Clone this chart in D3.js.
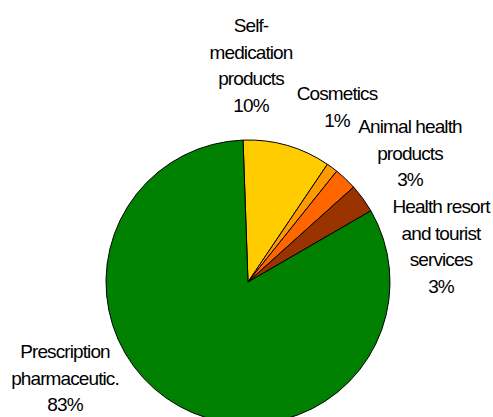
<!DOCTYPE html>
<html><head><meta charset="utf-8">
<script src="https://cdn.jsdelivr.net/npm/d3@7"></script>
<style>html,body{margin:0;padding:0;background:#fff;}svg{display:block;}</style>
</head><body>
<script>
const categories = ["Self-medication products","Cosmetics","Animal health products","Health resort and tourist services","Prescription pharmaceutic."];
const labelLines = [["Self-","medication","products"],["Cosmetics"],["Animal health","products"],["Health resort","and tourist","services"],["Prescription","pharmaceutic."]];
const percentLabels = ["10%","1%","3%","3%","83%"];
const values = [10.0, 1.3, 2.6, 3.3, 82.8];
const colors = ["#FFCC00","#FF9900","#FF6600","#993300","#008000"];

const W = 493, H = 417;
const cx = 248, cy = 282, R = 142;
// label anchor (x center, first baseline) — layout only
const labelPos = [[251,32],[337,100],[410,133],[441,213],[65,358]];
const lineH = 26.5;

const svg = d3.select("body").append("svg").attr("width",W).attr("height",H);
const startA = -2 * Math.PI/180;
const pie = d3.pie().sort(null).value(d=>d).startAngle(startA).endAngle(startA + 2*Math.PI);
const arc = d3.arc().innerRadius(0).outerRadius(R);
const g = svg.append("g").attr("transform",`translate(${cx},${cy})`);
g.selectAll("path").data(pie(values)).join("path")
  .attr("d",arc).attr("fill",(d,i)=>colors[i])
  .attr("stroke","#000").attr("stroke-width",1).attr("stroke-linejoin","round");

const lg = svg.append("g").attr("font-family","'Liberation Sans', Arial, sans-serif")
  .attr("font-size",19).attr("fill","#000").attr("text-anchor","middle");
categories.forEach((c,i)=>{
  const lines = labelLines[i].concat([percentLabels[i]]);
  const t = lg.append("text").attr("x",labelPos[i][0]).attr("y",labelPos[i][1]).attr("letter-spacing","-0.9");
  lines.forEach((l,j)=>{
    t.append("tspan").attr("x",labelPos[i][0]).attr("y",labelPos[i][1]+j*lineH).text(l);
  });
});
</script>
</body></html>
